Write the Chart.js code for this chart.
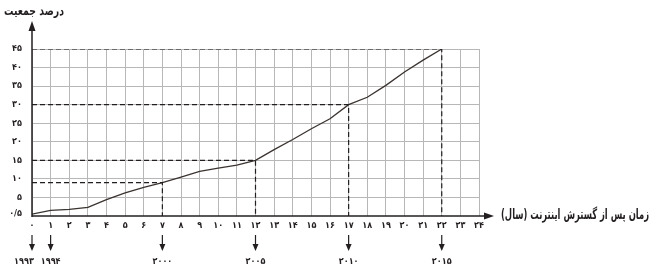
<!DOCTYPE html>
<html>
<head>
<meta charset="utf-8">
<script src="https://cdn.jsdelivr.net/npm/chart.js@4"></script>
<style>
  body { margin: 0; background: #fff; }
  canvas { display: block; }
</style>
</head>
<body>
<canvas id="internetChart" width="658" height="274"></canvas>
<script>
// years after internet spread, and percent of population
const yearsAfter = [0, 1, 2, 3, 4, 5, 6, 7, 8, 9, 10, 11, 12, 13, 14, 15, 16, 17, 18, 19, 20, 21, 22];
const percent = [0.5, 1.5, 1.8, 2.3, 4.4, 6.2, 7.7, 9, 10.5, 12, 12.9, 13.7, 15, 17.9, 20.6, 23.5, 26.2, 30, 32, 35.2, 38.8, 42, 45];
const yTicks = [0.5, 5, 10, 15, 20, 25, 30, 35, 40, 45];
const guideX = [7, 12, 17, 22];
const markX = [0, 1, 7, 12, 17, 22];
const markYears = [1993, 1994, 2000, 2005, 2010, 2015];

const ink = "#231f20";
const fontName = "'DejaVu Sans Condensed', 'DejaVu Sans', sans-serif";

function fa(n) {
  return String(n).replace(".", "/").replace(/\d/g, d => "۰۱۲۳۴۵۶۷۸۹"[d]);
}

// draws right-aligned text squeezed to a given width
function fitText(ctx, text, rightX, y, width, size) {
  ctx.save();
  ctx.direction = "rtl";
  ctx.textAlign = "right";
  ctx.textBaseline = "middle";
  ctx.font = "bold " + size + "px " + fontName;
  let w = ctx.measureText(text).width;
  ctx.translate(rightX, y);
  ctx.scale(width / w, 1);
  ctx.fillText(text, 0, 0);
  ctx.restore();
}

let datasets = [];

// dashed guide lines (horizontal to the point, then down to the axis)
guideX.forEach(gx => {
  let v = percent[yearsAfter.indexOf(gx)];
  datasets.push({
    data: [{x: 0, y: v}, {x: gx, y: v}, {x: gx, y: 0}],
    borderColor: ink,
    borderWidth: 1.2,
    borderDash: [5, 3],
    pointRadius: 0,
    tension: 0
  });
});

datasets.push({
  data: yearsAfter.map((x, i) => ({x: x, y: percent[i]})),
  borderColor: "#3a3330",
  borderWidth: 1.3,
  pointRadius: 0,
  tension: 0
});

const axesPlugin = {
  id: "axesPlugin",
  afterDraw(chart) {
    let ctx = chart.ctx;
    let xs = chart.scales.x;
    let ys = chart.scales.y;
    let x0 = xs.getPixelForValue(0);
    let y0 = ys.getPixelForValue(0);

    ctx.save();
    ctx.strokeStyle = ink;
    ctx.fillStyle = ink;
    ctx.lineWidth = 1.5;

    // x axis with arrow
    ctx.beginPath();
    ctx.moveTo(x0, y0);
    ctx.lineTo(486, y0);
    ctx.stroke();
    ctx.beginPath();
    ctx.moveTo(494, y0);
    ctx.lineTo(484, y0 - 3.5);
    ctx.lineTo(484, y0 + 3.5);
    ctx.closePath();
    ctx.fill();

    // y axis with arrow
    ctx.beginPath();
    ctx.moveTo(x0, y0 + 1);
    ctx.lineTo(x0, 30);
    ctx.stroke();
    ctx.beginPath();
    ctx.moveTo(x0, 21);
    ctx.lineTo(x0 - 3.5, 31);
    ctx.lineTo(x0 + 3.5, 31);
    ctx.closePath();
    ctx.fill();

    // axis titles
    fitText(ctx, "زمان پس از گسترش اینترنت (سال)", 649, 215, 148, 14);
    fitText(ctx, "درصد جمعیت", 64, 12, 60, 13);

    // year arrows under the axis
    ctx.textAlign = "center";
    ctx.textBaseline = "middle";
    ctx.font = "bold 9px " + fontName;
    ctx.lineWidth = 1.2;
    markX.forEach((mx, i) => {
      let px = xs.getPixelForValue(mx);
      ctx.beginPath();
      ctx.moveTo(px, 235);
      ctx.lineTo(px, 246);
      ctx.stroke();
      ctx.beginPath();
      ctx.moveTo(px, 251);
      ctx.lineTo(px - 3, 244);
      ctx.lineTo(px + 3, 244);
      ctx.closePath();
      ctx.fill();
      let lx = (i == 0) ? px - 8 : px;
      ctx.fillText(fa(markYears[i]), lx, 262);
    });
    ctx.restore();
  }
};

new Chart(document.querySelector("#internetChart"), {
  type: "line",
  data: { datasets: datasets },
  plugins: [axesPlugin],
  options: {
    responsive: false,
    animation: false,
    layout: { padding: { left: 0, right: 179, top: 49, bottom: 0 } },
    plugins: { legend: { display: false }, tooltip: { enabled: false } },
    scales: {
      x: {
        type: "linear",
        min: 0,
        max: 24,
        afterFit: scale => { scale.height = 58; },
        border: { display: false },
        grid: { color: "#b7b7b7", lineWidth: 1, drawTicks: false },
        ticks: {
          stepSize: 1,
          autoSkip: false,
          maxRotation: 0,
          padding: 4,
          color: ink,
          font: { size: 9, weight: "bold", family: fontName },
          callback: v => fa(v)
        }
      },
      y: {
        min: 0,
        max: 45,
        afterFit: scale => { scale.width = 32; },
        afterBuildTicks: scale => { scale.ticks = yTicks.map(v => ({value: v})); },
        border: { display: false },
        grid: {
          color: c => (c.tick && c.tick.value == 0.5) ? "rgba(0,0,0,0)" : "#b7b7b7",
          lineWidth: 1,
          drawTicks: false
        },
        ticks: {
          padding: 10,
          color: ink,
          font: { size: 9, weight: "bold", family: fontName },
          callback: v => fa(v)
        }
      }
    }
  }
});
</script>
</body>
</html>
